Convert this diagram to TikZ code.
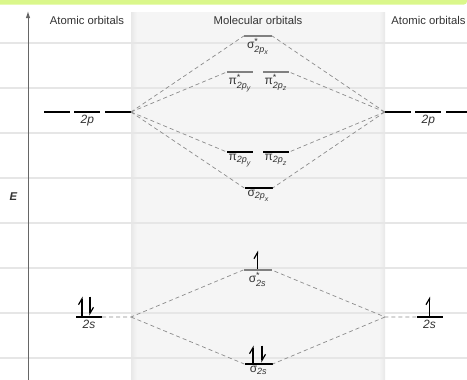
\documentclass[tikz,border=0pt]{standalone}
\usepackage{fontspec}
\setmainfont{Liberation Sans}
\usepackage{amsmath}
\usetikzlibrary{arrows.meta,positioning}

\definecolor{bandgreen}{HTML}{DAF78B}
\definecolor{panelgray}{HTML}{F5F5F5}
\definecolor{gridgray}{HTML}{E6E6E6}
\definecolor{txtgray}{HTML}{333333}
\definecolor{axisgray}{HTML}{666666}

\DeclareMathSizes{12}{12}{9}{7}
\newcommand{\twop}[1]{\text{\itshape 2p}_{\text{\itshape #1}}}
\newcommand{\twos}{\text{\itshape 2s}}

\tikzset{
	lvl/.style = {rectangle, inner sep=0pt, minimum width=26pt, minimum height=2.6pt, fill=black},
	abl/.style = {lvl, fill=black!50},
	sig/.style = {minimum width=28pt},
	lab/.style = {inner sep=0.5pt, text=txtgray, font=\fontsize{12}{13}\selectfont},
	head/.style = {inner sep=0pt, text=txtgray, font=\fontsize{11.3}{13}\selectfont},
	mix/.style = {draw=black!45, line width=0.7pt, dash pattern=on 4pt off 3pt},
	elec/.style = {line width=1.2pt, -{Straight Barb[harpoon,length=6pt,width=7pt]}}
}

\begin{document}
\begin{tikzpicture}[x=1pt, y=-1pt]
	\useasboundingbox (0,0) rectangle (467,380);
	\clip (0,0) rectangle (467,380);
	% background
	\fill[bandgreen, rounded corners=3pt] (-5,-5) rectangle (467,4.5);
	\fill[panelgray] (131,12) rectangle (385,385);
	\shade[left color=black!9, right color=panelgray] (131,12) rectangle (137,385);
	\shade[left color=panelgray, right color=black!9] (379,12) rectangle (385,385);
	\foreach \y in {43,88,...,358}
		\draw[gridgray, line width=1.3pt] (0,\y) -- (467,\y);

	% energy axis
	\coordinate (ebot) at (28,380);
	\coordinate (etop) at (28,11);
	\draw[axisgray, line width=1pt, -{Latex[length=7pt,width=4.5pt]}] (ebot) -- (etop);
	\node[head] (eax) at (13.5,197) {\textbf{\textit{E}}};

	\node[head] (hl) at (87,20) {Atomic orbitals};
	\node[head] (hm) at (258,20) {Molecular orbitals};
	\node[head] (hr) at (428.5,20) {Atomic orbitals};

	% atomic levels
	\node[lvl] (pL1) at (57,112) {};
	\node[lvl, right=4pt of pL1] (pL2) {};
	\node[lvl, right=4pt of pL2] (pL3) {};
	\node[lvl] (pR1) at (398,112) {};
	\node[lvl, right=4pt of pR1] (pR2) {};
	\node[lvl, right=4pt of pR2] (pR3) {};
	\node[lvl] (sL) at (89,317) {};
	\node[lvl] (sR) at (429.5,317) {};
	\node[lab, below=1pt of pL2] (pLl) {\textit{2p}};
	\node[lab, below=1pt of pR2] (pRl) {\textit{2p}};
	\node[lab, below=1pt of sL] (sLl) {\textit{2s}};
	\node[lab, below=1pt of sR] (sRl) {\textit{2s}};

	% molecular levels
	\node[abl, sig] (sxs) at (258,36) {};
	\node[abl] (pys) at (240,72) {};
	\node[abl] (pzs) at (276,72) {};
	\node[lvl] (py) at (240,152) {};
	\node[lvl] (pz) at (276,152) {};
	\node[lvl, sig] (sx) at (258.5,188) {};
	\node[abl, sig] (ss) at (257.5,270) {};
	\node[lvl, sig] (s) at (258.5,364) {};
	\node[lab, below=0pt of sxs] (sxsl) {$\text{σ}^{\text{*}}_{\twop{x}}$};
	\node[lab, below=0pt of pys] (pysl) {$\text{π}^{\text{*}}_{\twop{y}}$};
	\node[lab, below=0pt of pzs] (pzsl) {$\text{π}^{\text{*}}_{\twop{z}}$};
	\node[lab, below=0pt of py] (pyl) {$\text{π}_{\twop{y}}$};
	\node[lab, below=0pt of pz] (pzl) {$\text{π}_{\twop{z}}$};
	\node[lab, below=0pt of sx] (sxl) {$\text{σ}_{\twop{x}}$};
	\node[lab, below=0pt of ss] (ssl) {$\text{σ}^{\text{*}}_{\twos}$};
	\node[lab, below=0pt of s] (sl) {$\text{σ}_{\twos}$};

	% correlation lines
	\coordinate (jL) at (131,317);
	\coordinate (jR) at (385,317);
	\foreach \m in {sxs,pys,py,sx}
		\draw[mix] (pL3.east) -- (\m.west);
	\foreach \m in {sxs,pzs,pz,sx}
		\draw[mix] (pR1.west) -- (\m.east);
	\draw[mix] (sL.east) -- (jL) -- (ss.west);
	\draw[mix] (jL) -- (s.west);
	\draw[mix] (sR.west) -- (jR) -- (ss.east);
	\draw[mix] (jR) -- (s.east);

	% electrons
	\draw[elec] ([xshift=-7pt]sL.north) -- ++(0,-19);
	\draw[elec] ([xshift=1pt,yshift=19pt]sL.north) -- ([xshift=1pt]sL.north);
	\draw[elec] (sR.north) -- ++(0,-19);
	\draw[elec] (ss.north) -- ++(0,-18);
	\draw[elec] ([xshift=-5.5pt]s.north) -- ++(0,-17);
	\draw[elec] ([xshift=3.5pt,yshift=17pt]s.north) -- ([xshift=3.5pt]s.north);
\end{tikzpicture}
\end{document}
